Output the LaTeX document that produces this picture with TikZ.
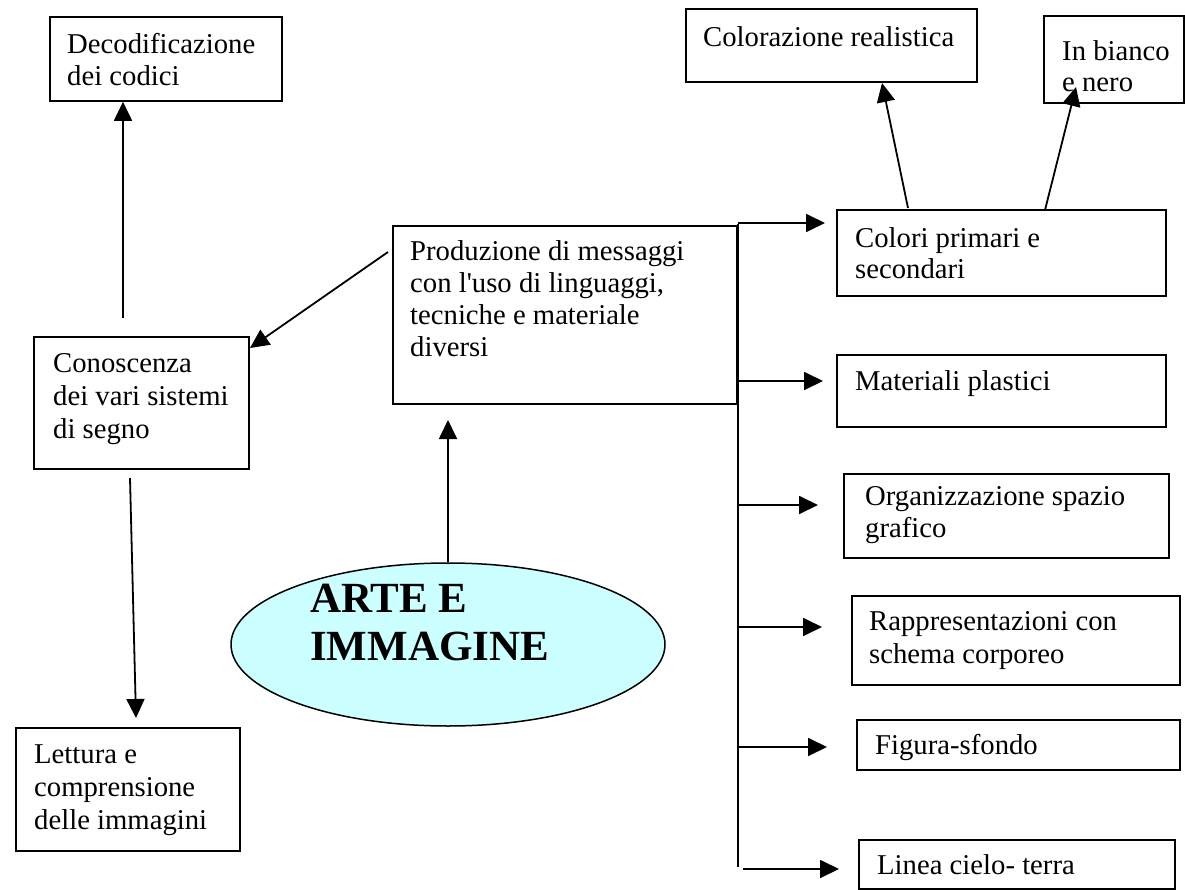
\documentclass[tikz,border=0pt]{standalone}
\usepackage{fontspec}
\setmainfont{Liberation Serif}
\usetikzlibrary{arrows.meta,shapes.geometric}
\definecolor{lightcyan}{HTML}{CCFFFF}
\newcommand{\firstln}{\rule{0pt}{21pt}}
\newcommand{\bigln}{\rule{0pt}{32pt}}
\tikzset{
  box/.style={draw, line width=1.8pt, rectangle, inner sep=0pt, anchor=north west},
  txt/.style={anchor=north west, inner sep=0pt, align=left, font=\fontsize{28.7}{32}\selectfont},
  arr/.style={line width=1.8pt, -{Triangle[length=19pt,width=18pt]}},
  ln/.style={line width=1.8pt},
}
\begin{document}
\begin{tikzpicture}[x=1pt,y=-1pt]
\useasboundingbox (0,0) rectangle (1185,890);

% boxes
\node[box, minimum width=232pt, minimum height=84pt] (dec) at (49,16) {};
\node[box, minimum width=291pt, minimum height=73pt] (col) at (685,8) {};
\node[box, minimum width=140pt, minimum height=87pt] (bn) at (1043,15) {};
\node[box, minimum width=344pt, minimum height=178pt] (prod) at (392,225) {};
\node[box, minimum width=329pt, minimum height=86pt] (cps) at (836,209) {};
\node[box, minimum width=329pt, minimum height=72pt] (mat) at (836,354) {};
\node[box, minimum width=325pt, minimum height=84pt] (org) at (843,473) {};
\node[box, minimum width=328pt, minimum height=89pt] (rap) at (851,595) {};
\node[box, minimum width=323pt, minimum height=50pt] (fig) at (856,719) {};
\node[box, minimum width=316pt, minimum height=49pt] (lin) at (858,839) {};
\node[box, minimum width=215pt, minimum height=132pt] (con) at (33,336) {};
\node[box, minimum width=224pt, minimum height=123pt] (let) at (15,727) {};

% central ellipse
\node[ellipse, draw, line width=1.5pt, fill=lightcyan, minimum width=434pt, minimum height=163pt, inner sep=0pt] (arte) at (448,644.5) {};

% texts
\node[txt] (tdec) at (67,32) {\firstln Decodificazione\\dei codici};
\node[txt] (tcol) at (703,25) {\firstln Colorazione realistica};
\node[txt, font=\fontsize{28.7}{31}\selectfont] (tbn) at (1062,39) {\firstln In bianco\\e nero};
\node[txt] (tprod) at (410,239) {\firstln Produzione di messaggi\\con l\textquotesingle uso di linguaggi,\\tecniche e materiale\\diversi};
\node[txt, font=\fontsize{28.7}{31}\selectfont] (tcps) at (855,226) {\firstln Colori primari e\\secondari};
\node[txt] (tmat) at (855,369) {\firstln Materiali plastici};
\node[txt] (torg) at (865,484) {\firstln Organizzazione spazio\\grafico};
\node[txt, font=\fontsize{28.7}{33}\selectfont] (trap) at (869,609) {\firstln Rappresentazioni con\\schema corporeo};
\node[txt] (tfig) at (875,733) {\firstln Figura-sfondo};
\node[txt] (tlin) at (877,853) {\firstln Linea cielo- terra};
\node[txt, font=\fontsize{28.7}{33}\selectfont] (tcon) at (53,351) {\firstln Conoscenza\\dei vari sistemi\\di segno};
\node[txt, font=\fontsize{28.7}{33}\selectfont] (tlet) at (34,742) {\firstln Lettura e\\comprensione\\delle immagini};
\node[txt, font=\fontsize{43}{48}\bfseries] (tarte) at (310,580) {\bigln ARTE E\\IMMAGINE};

% free ends of the connectors
\coordinate (decfrom) at (123,318);
\coordinate (prodfrom) at (388,252);
\coordinate (conto) at (250,348);
\coordinate (confrom) at (130,478);
\coordinate (letto) at (136,718);
\coordinate (prodto) at (448,420);
\coordinate (colfrom) at (908,208);
\coordinate (colto) at (882,83);
\coordinate (bnfrom) at (1045,210);
\coordinate (bnto) at (1076,87);

\draw[arr] (decfrom) -- (decfrom |- dec.south);
\draw[arr] (prodfrom) -- (conto);
\draw[arr] (confrom) -- (letto);
\draw[arr] (arte.north) -- (prodto);
\draw[arr] (colfrom) -- (colto);
\draw[arr] (bnfrom) -- (bnto);

% trunk on the right of the production box
\coordinate (trtop) at (738,224);
\coordinate (trbot) at (738,867);
\draw[ln] (trtop) -- (trbot);

\coordinate (e1) at (825,223);
\coordinate (e2) at (823,381);
\coordinate (e3) at (818,505);
\coordinate (e4) at (822,627);
\coordinate (e5) at (827,747);
\coordinate (e6s) at (743,869);
\coordinate (e6) at (839,869);

\draw[arr] (trtop |- e1) -- (e1);
\draw[arr] (trtop |- e2) -- (e2);
\draw[arr] (trtop |- e3) -- (e3);
\draw[arr] (trtop |- e4) -- (e4);
\draw[arr] (trtop |- e5) -- (e5);
\draw[arr] (e6s) -- (e6);
\end{tikzpicture}
\end{document}
